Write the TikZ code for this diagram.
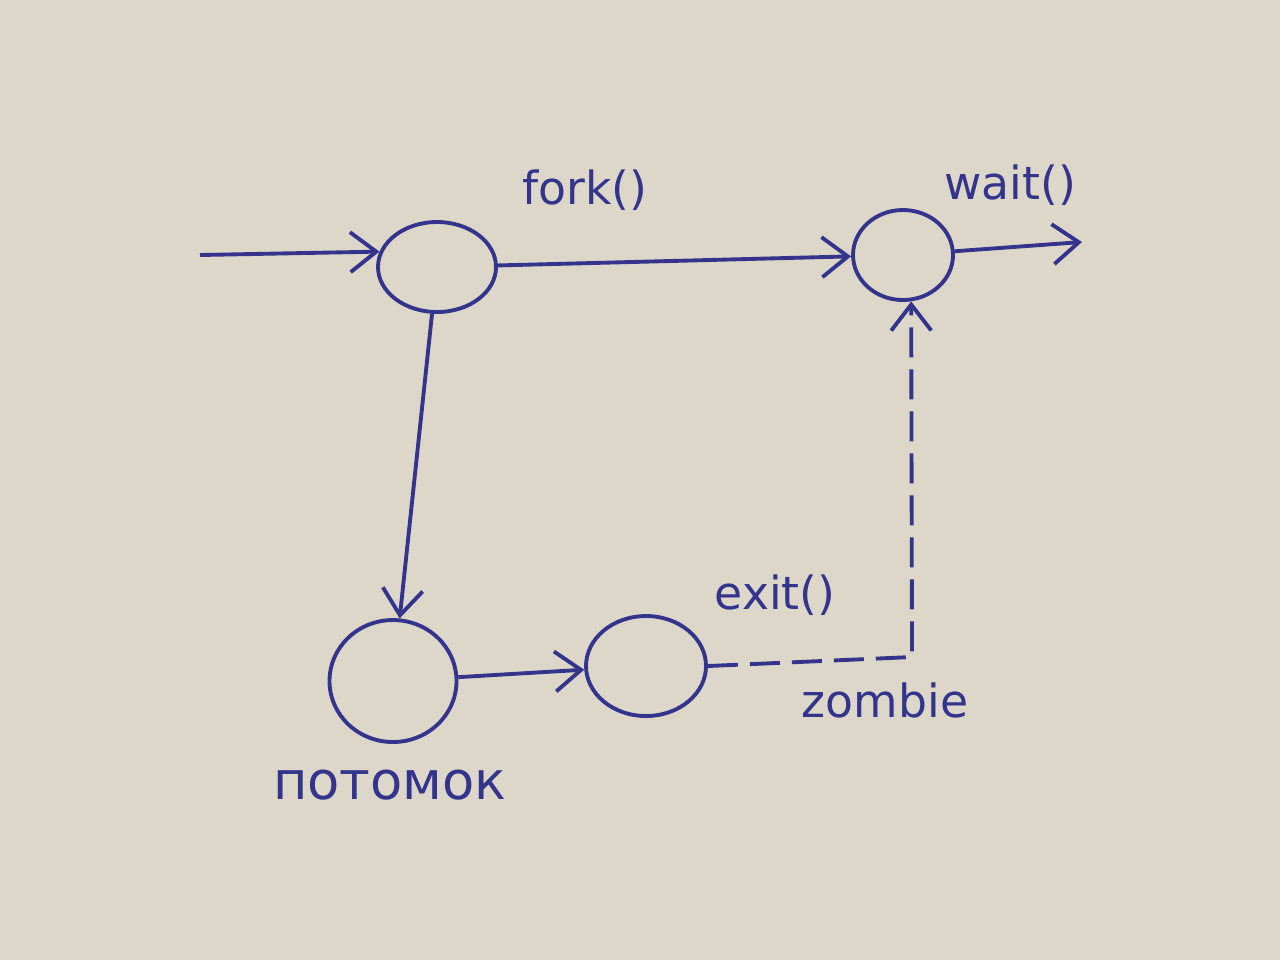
\documentclass[tikz,border=0pt]{standalone}
\usepackage{fontspec}
\setmainfont{DejaVu Sans}
\usetikzlibrary{shapes.geometric,arrows.meta}
\definecolor{paper}{RGB}{221,215,202}
\definecolor{pen}{RGB}{52,52,140}
\tikzset{
	state/.style={draw=pen, ellipse, line width=1.1pt, inner sep=0pt},
	flow/.style={pen, line width=1.1pt, -{Straight Barb[length=2.6mm,width=4mm]}},
	lbl/.style={text=pen, font=\fontsize{13}{15}\selectfont}
}

\begin{document}
\begin{tikzpicture}
	\fill[paper] (0,0) rectangle (12.8,-9.6);
	% processes
	\node[state, minimum width=1.18cm, minimum height=0.9cm] (fork) at (4.37,-2.67) {};
	\node[state, minimum width=1.0cm, minimum height=0.9cm] (wait) at (9.03,-2.55) {};
	\node[state, minimum width=1.27cm, minimum height=1.22cm] (child) at (3.93,-6.81) {};
	\node[state, minimum width=1.2cm, minimum height=1.0cm] (exit) at (6.46,-6.66) {};
	\coordinate (in) at (2.0,-2.55);
	\coordinate (out) at (10.82,-2.42);
	\coordinate (corner) at (9.12,-6.57);
	% labels
	\node[lbl] (forklbl) at (5.85,-1.9) {fork()};
	\node[lbl] (waitlbl) at (10.1,-1.85) {wait()};
	\node[lbl] (exitlbl) at (7.75,-5.95) {exit()};
	\node[lbl] (zombielbl) at (8.85,-7.0) {zombie};
	\node[lbl, font=\fontsize{15}{17}\selectfont] (childlbl) at (3.9,-7.85) {потомок};
	% arrows
	\draw[flow] (in) -- (fork.165);
	\draw[flow] (fork) -- (wait);
	\draw[flow] (wait) -- (out);
	\draw[flow] (fork) -- (child);
	\draw[flow] (child) -- (exit);
	\draw[flow, dash pattern=on 3mm off 1.2mm] (exit.east) -- (corner) -- (wait.-80);
\end{tikzpicture}
\end{document}
